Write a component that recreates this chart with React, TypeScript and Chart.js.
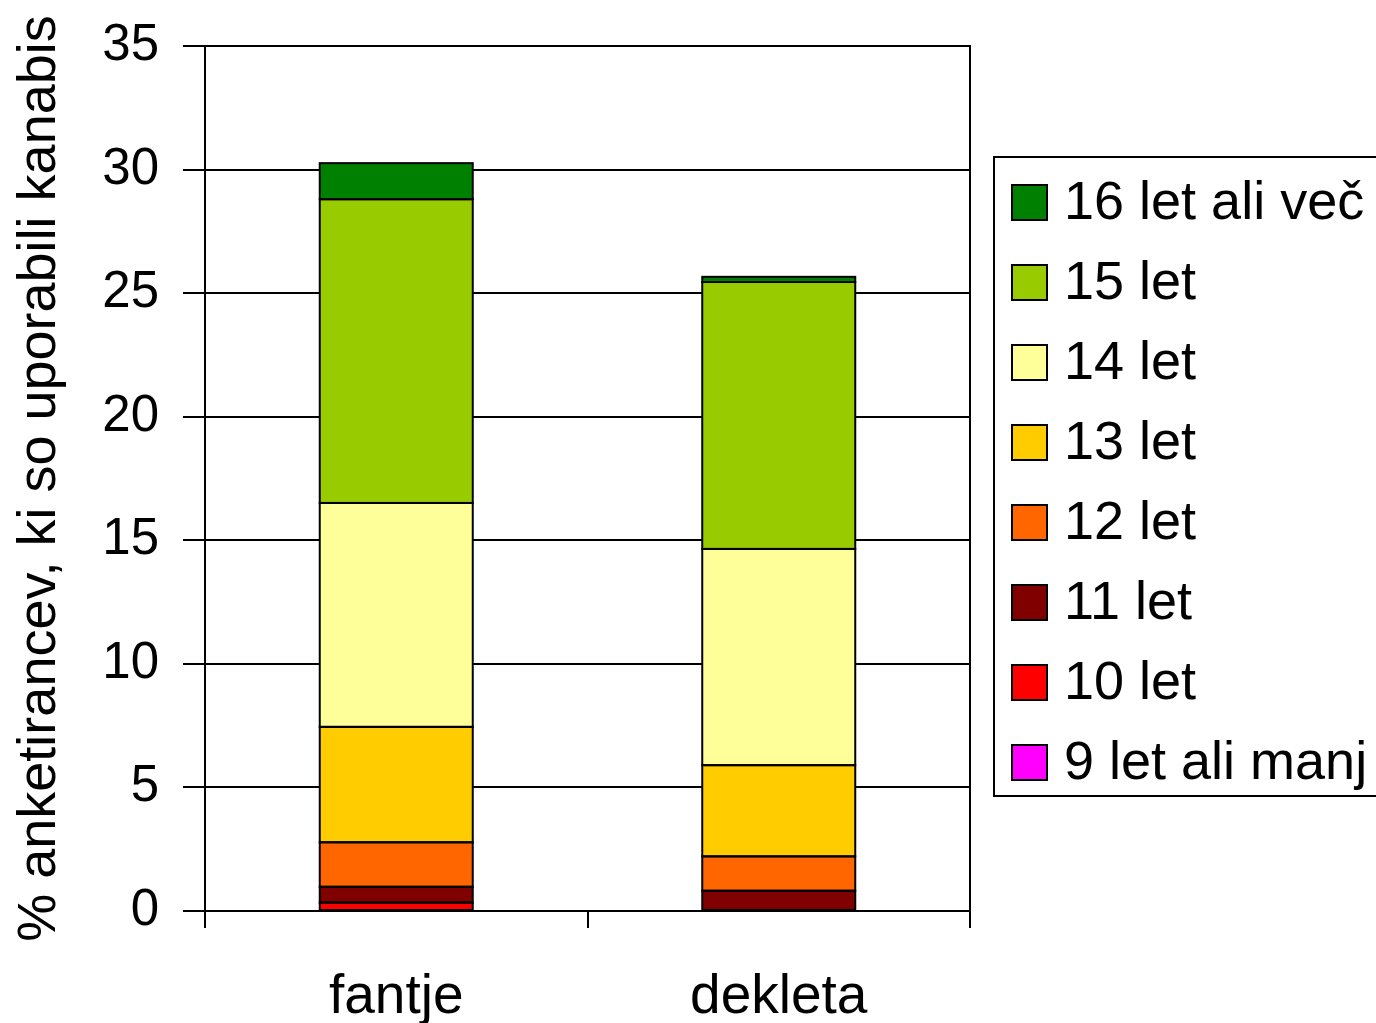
import React, { useEffect, useRef } from "react";
import { Chart, registerables } from "chart.js";

Chart.register(...registerables);

const categories = ["fantje", "dekleta"];
const seriesLabels = [
  "9 let ali manj",
  "10 let",
  "11 let",
  "12 let",
  "13 let",
  "14 let",
  "15 let",
  "16 let ali več",
];
const seriesColors = [
  "#FF00FF",
  "#FF0000",
  "#800000",
  "#FF6600",
  "#FFCC00",
  "#FFFF99",
  "#99CC00",
  "#008000",
];
const age9 = [0, 0];
const age10 = [0.34, 0];
const age11 = [0.64, 0.82];
const age12 = [1.8, 1.39];
const age13 = [4.67, 3.69];
const age14 = [9.06, 8.75];
const age15 = [12.29, 10.8];
const age16 = [1.46, 0.21];
const seriesValues = [age9, age10, age11, age12, age13, age14, age15, age16];

const yTitle = "% anketirancev, ki so uporabili kanabis";
const yMin = 0;
const yMax = 35;
const yStep = 5;

const FONT = "'Liberation Sans', Arial, sans-serif";
const W = 1376;
const H = 1023;

export default function App() {
  const ref = useRef<HTMLCanvasElement | null>(null);

  useEffect(() => {
    const canvas = ref.current;
    if (!canvas) return;

    const outlinePlugin = {
      id: "barOutlines",
      afterDatasetsDraw(chart: any) {
        const ctx = chart.ctx;
        ctx.save();
        ctx.strokeStyle = "#000";
        ctx.lineWidth = 2;
        chart.data.datasets.forEach((_d: any, i: number) => {
          const meta = chart.getDatasetMeta(i);
          meta.data.forEach((el: any) => {
            const p = el.getProps(["x", "y", "base", "width"], true);
            const h = p.base - p.y;
            if (Math.abs(h) < 0.5) return;
            ctx.strokeRect(p.x - p.width / 2, p.y, p.width, h);
          });
        });
        ctx.restore();
      },
    };

    const framePlugin = {
      id: "frameAndLegend",
      afterDraw(chart: any) {
        const ctx = chart.ctx;
        const a = chart.chartArea;
        ctx.save();
        ctx.strokeStyle = "#000";
        ctx.lineWidth = 2;
        ctx.strokeRect(a.left, a.top, a.right - a.left, a.bottom - a.top);

        // legend box
        const bx = 994;
        const by = 157;
        const bw = 400;
        const bh = 796 - 157;
        ctx.strokeRect(bx, by, bw, bh);
        const ds = chart.data.datasets;
        ctx.font = `54px ${FONT}`;
        ctx.textBaseline = "middle";
        ctx.textAlign = "left";
        const n = ds.length;
        for (let i = 0; i < n; i++) {
          const d = ds[n - 1 - i];
          const cy = 202 + i * 80;
          ctx.fillStyle = d.backgroundColor;
          ctx.fillRect(1012, cy - 17, 35, 35);
          ctx.lineWidth = 2;
          ctx.strokeStyle = "#000";
          ctx.strokeRect(1012, cy - 17, 35, 35);
          ctx.fillStyle = "#000";
          ctx.fillText(d.label, 1064, cy + 2);
        }
        ctx.restore();
      },
    };

    const chart = new Chart(canvas, {
      type: "bar",
      data: {
        labels: categories,
        datasets: seriesLabels.map((label, i) => ({
          label,
          data: seriesValues[i],
          backgroundColor: seriesColors[i],
          borderWidth: 0,
          barPercentage: 0.4,
          categoryPercentage: 1.0,
          inflateAmount: 0,
        })),
      },
      options: {
        responsive: false,
        animation: false,
        devicePixelRatio: 1,
        layout: { padding: { top: 46, right: 406, left: 0, bottom: 0 } },
        plugins: {
          legend: { display: false },
          tooltip: { enabled: false },
        },
        scales: {
          x: {
            stacked: true,
            afterFit: (scale: any) => {
              scale.height = 112;
            },
            grid: {
              display: true,
              drawOnChartArea: false,
              drawTicks: true,
              tickLength: 17,
              color: "#000",
              lineWidth: 2,
              offset: true,
            },
            border: { display: true, color: "#000", width: 2 },
            ticks: {
              color: "#000",
              font: { family: FONT, size: 55 },
              padding: 37,
            },
          },
          y: {
            stacked: true,
            min: yMin,
            max: yMax,
            afterFit: (scale: any) => {
              scale.width = 205;
              scale.paddingTop = 0;
              scale.paddingBottom = 0;
            },
            grid: {
              color: "#000",
              lineWidth: 2,
              drawTicks: true,
              tickLength: 22,
            },
            border: { display: true, color: "#000", width: 2 },
            ticks: {
              stepSize: yStep,
              color: "#000",
              font: { family: FONT, size: 51 },
              padding: 24,
            },
            title: {
              display: true,
              text: yTitle,
              color: "#000",
              font: { family: FONT, size: 54 },
              padding: { top: 8, bottom: 0 },
            },
          },
        },
      },
      plugins: [outlinePlugin, framePlugin],
    });

    return () => chart.destroy();
  }, []);

  return (
    <div
      style={{
        position: "fixed",
        left: 0,
        top: 0,
        width: W,
        height: H,
        overflow: "hidden",
        background: "#fff",
      }}
    >
      <canvas ref={ref} width={W} height={H} style={{ width: W, height: H, display: "block" }} />
    </div>
  );
}
